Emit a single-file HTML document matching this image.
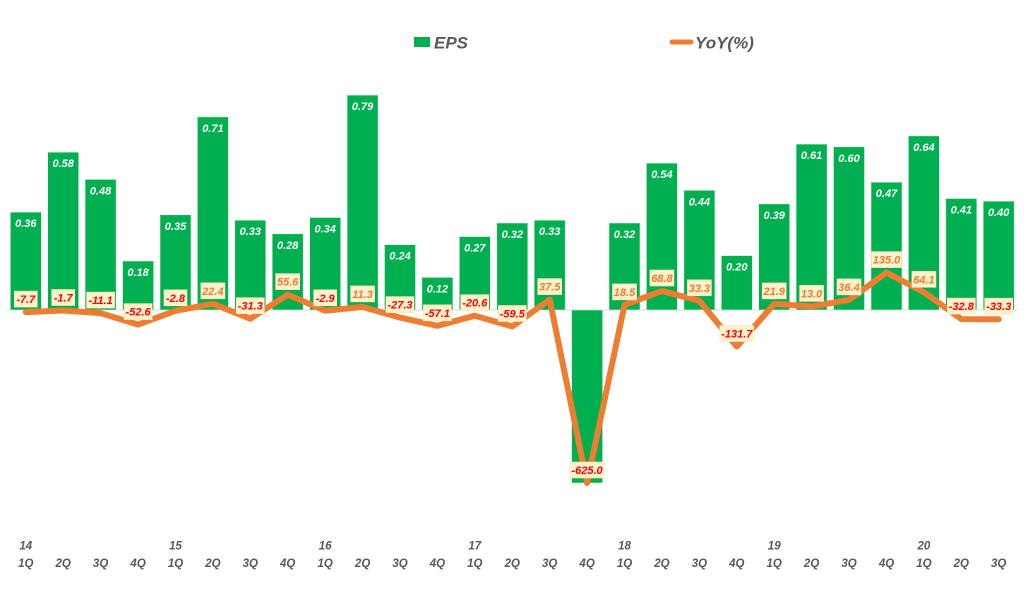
<!DOCTYPE html>
<html>
<head>
<meta charset="utf-8">
<style>
html,body{margin:0;padding:0;background:#fff;}
svg{display:block;}
text{font-family:"Liberation Sans",sans-serif;font-weight:bold;font-style:italic;}
.e{font-size:11px;fill:#fff;text-anchor:middle;}
.n{font-size:11px;fill:#FF0000;text-anchor:middle;}
.p{font-size:11px;fill:#ED7D31;text-anchor:middle;}
.a{font-size:11.5px;fill:#595959;text-anchor:middle;}
.b rect{fill:#00B050;stroke:#E2F0D9;stroke-width:0.6;}
.bx rect{fill:#FFF2CC;stroke:#FBE5B6;stroke-width:0.6;}
</style>
</head>
<body>
<svg width="1024" height="589" viewBox="0 0 1024 589" xmlns="http://www.w3.org/2000/svg">
<rect x="0" y="0" width="1024" height="589" fill="#fff"/>
<rect x="414" y="37" width="16" height="10" fill="#00B050"/>
<text x="434" y="48.5" font-size="17" fill="#595959">EPS</text>
<line x1="672" y1="42" x2="691" y2="42" stroke="#ED7D31" stroke-width="5" stroke-linecap="round"/>
<text x="695" y="48.5" font-size="17" fill="#595959">YoY(%)</text>
<line x1="7" y1="310" x2="1017" y2="310" stroke="#D9D9D9" stroke-width="1"/>
<g class="b">
<rect x="10.3" y="212.1" width="31" height="97.9"/>
<rect x="47.7" y="152.2" width="31" height="157.8"/>
<rect x="85.1" y="179.4" width="31" height="130.6"/>
<rect x="122.6" y="261.0" width="31" height="49.0"/>
<rect x="160.0" y="214.8" width="31" height="95.2"/>
<rect x="197.4" y="116.9" width="31" height="193.1"/>
<rect x="234.8" y="220.2" width="31" height="89.8"/>
<rect x="272.2" y="233.8" width="31" height="76.2"/>
<rect x="309.7" y="217.5" width="31" height="92.5"/>
<rect x="347.1" y="95.1" width="31" height="214.9"/>
<rect x="384.5" y="244.7" width="31" height="65.3"/>
<rect x="421.9" y="277.4" width="31" height="32.6"/>
<rect x="459.3" y="236.6" width="31" height="73.4"/>
<rect x="496.8" y="223.0" width="31" height="87.0"/>
<rect x="534.2" y="220.2" width="31" height="89.8"/>
<rect x="571.6" y="310.0" width="31" height="173.0"/>
<rect x="609.0" y="223.0" width="31" height="87.0"/>
<rect x="646.4" y="163.1" width="31" height="146.9"/>
<rect x="683.9" y="190.3" width="31" height="119.7"/>
<rect x="721.3" y="255.6" width="31" height="54.4"/>
<rect x="758.7" y="203.9" width="31" height="106.1"/>
<rect x="796.1" y="144.1" width="31" height="165.9"/>
<rect x="833.5" y="146.8" width="31" height="163.2"/>
<rect x="871.0" y="182.2" width="31" height="127.8"/>
<rect x="908.4" y="135.9" width="31" height="174.1"/>
<rect x="945.8" y="198.5" width="31" height="111.5"/>
<rect x="983.2" y="201.2" width="31" height="108.8"/>
</g>
<g>
<text class="e" x="25.8" y="227.1">0.36</text>
<text class="e" x="63.2" y="167.2">0.58</text>
<text class="e" x="100.6" y="194.4">0.48</text>
<text class="e" x="138.1" y="276.0">0.18</text>
<text class="e" x="175.5" y="229.8">0.35</text>
<text class="e" x="212.9" y="131.9">0.71</text>
<text class="e" x="250.3" y="235.2">0.33</text>
<text class="e" x="287.7" y="248.8">0.28</text>
<text class="e" x="325.2" y="232.5">0.34</text>
<text class="e" x="362.6" y="110.1">0.79</text>
<text class="e" x="400.0" y="259.7">0.24</text>
<text class="e" x="437.4" y="292.4">0.12</text>
<text class="e" x="474.8" y="251.6">0.27</text>
<text class="e" x="512.3" y="238.0">0.32</text>
<text class="e" x="549.7" y="235.2">0.33</text>
<text class="e" x="624.5" y="238.0">0.32</text>
<text class="e" x="661.9" y="178.1">0.54</text>
<text class="e" x="699.4" y="205.3">0.44</text>
<text class="e" x="736.8" y="270.6">0.20</text>
<text class="e" x="774.2" y="218.9">0.39</text>
<text class="e" x="811.6" y="159.1">0.61</text>
<text class="e" x="849.0" y="161.8">0.60</text>
<text class="e" x="886.5" y="197.2">0.47</text>
<text class="e" x="923.9" y="150.9">0.64</text>
<text class="e" x="961.3" y="213.5">0.41</text>
<text class="e" x="998.7" y="216.2">0.40</text>
</g>
<polyline fill="none" stroke="#ED7D31" stroke-width="6" stroke-linejoin="round" stroke-linecap="round" points="25.8,312.1 63.2,310.5 100.6,313.1 138.1,324.6 175.5,310.8 212.9,303.8 250.3,318.7 287.7,294.6 325.2,310.8 362.6,306.9 400.0,317.6 437.4,325.8 474.8,315.7 512.3,326.5 549.7,299.6 587.1,483.0 624.5,304.9 661.9,291.0 699.4,300.8 736.8,346.5 774.2,303.9 811.6,306.4 849.0,299.9 886.5,272.6 923.9,292.3 961.3,319.1 998.7,319.2"/>
<g class="bx">
<rect x="14.3" y="291.1" width="23" height="16"/><text class="n" x="25.8" y="303.1">-7.7</text>
<rect x="51.7" y="289.5" width="23" height="16"/><text class="n" x="63.2" y="301.5">-1.7</text>
<rect x="86.6" y="292.1" width="28" height="16"/><text class="n" x="100.6" y="304.1">-11.1</text>
<rect x="124.1" y="303.6" width="28" height="16"/><text class="n" x="138.1" y="315.6">-52.6</text>
<rect x="164.0" y="289.8" width="23" height="16"/><text class="n" x="175.5" y="301.8">-2.8</text>
<rect x="200.9" y="282.8" width="24" height="16"/><text class="p" x="212.9" y="294.8">22.4</text>
<rect x="236.3" y="297.7" width="28" height="16"/><text class="n" x="250.3" y="309.7">-31.3</text>
<rect x="275.7" y="273.6" width="24" height="16"/><text class="p" x="287.7" y="285.6">55.6</text>
<rect x="313.7" y="289.8" width="23" height="16"/><text class="n" x="325.2" y="301.8">-2.9</text>
<rect x="350.6" y="285.9" width="24" height="16"/><text class="p" x="362.6" y="297.9">11.3</text>
<rect x="386.0" y="296.6" width="28" height="16"/><text class="n" x="400.0" y="308.6">-27.3</text>
<rect x="423.4" y="304.8" width="28" height="16"/><text class="n" x="437.4" y="316.8">-57.1</text>
<rect x="460.8" y="294.7" width="28" height="16"/><text class="n" x="474.8" y="306.7">-20.6</text>
<rect x="498.3" y="305.5" width="28" height="16"/><text class="n" x="512.3" y="317.5">-59.5</text>
<rect x="537.7" y="278.6" width="24" height="16"/><text class="p" x="549.7" y="290.6">37.5</text>
<rect x="570.1" y="462.0" width="34" height="16"/><text class="n" x="587.1" y="474.0">-625.0</text>
<rect x="612.5" y="283.9" width="24" height="16"/><text class="p" x="624.5" y="295.9">18.5</text>
<rect x="649.9" y="270.0" width="24" height="16"/><text class="p" x="661.9" y="282.0">68.8</text>
<rect x="687.4" y="279.8" width="24" height="16"/><text class="p" x="699.4" y="291.8">33.3</text>
<rect x="719.8" y="325.5" width="34" height="16"/><text class="n" x="736.8" y="337.5">-131.7</text>
<rect x="762.2" y="282.9" width="24" height="16"/><text class="p" x="774.2" y="294.9">21.9</text>
<rect x="799.6" y="285.4" width="24" height="16"/><text class="p" x="811.6" y="297.4">13.0</text>
<rect x="837.0" y="278.9" width="24" height="16"/><text class="p" x="849.0" y="290.9">36.4</text>
<rect x="871.5" y="251.6" width="30" height="16"/><text class="p" x="886.5" y="263.6">135.0</text>
<rect x="911.9" y="271.3" width="24" height="16"/><text class="p" x="923.9" y="283.3">64.1</text>
<rect x="947.3" y="298.1" width="28" height="16"/><text class="n" x="961.3" y="310.1">-32.8</text>
<rect x="984.7" y="298.2" width="28" height="16"/><text class="n" x="998.7" y="310.2">-33.3</text>
</g>
<g>
<text class="a" x="25.8" y="549.5">14</text>
<text class="a" x="175.5" y="549.5">15</text>
<text class="a" x="325.2" y="549.5">16</text>
<text class="a" x="474.8" y="549.5">17</text>
<text class="a" x="624.5" y="549.5">18</text>
<text class="a" x="774.2" y="549.5">19</text>
<text class="a" x="923.9" y="549.5">20</text>
<text class="a" x="25.8" y="567">1Q</text>
<text class="a" x="63.2" y="567">2Q</text>
<text class="a" x="100.6" y="567">3Q</text>
<text class="a" x="138.1" y="567">4Q</text>
<text class="a" x="175.5" y="567">1Q</text>
<text class="a" x="212.9" y="567">2Q</text>
<text class="a" x="250.3" y="567">3Q</text>
<text class="a" x="287.7" y="567">4Q</text>
<text class="a" x="325.2" y="567">1Q</text>
<text class="a" x="362.6" y="567">2Q</text>
<text class="a" x="400.0" y="567">3Q</text>
<text class="a" x="437.4" y="567">4Q</text>
<text class="a" x="474.8" y="567">1Q</text>
<text class="a" x="512.3" y="567">2Q</text>
<text class="a" x="549.7" y="567">3Q</text>
<text class="a" x="587.1" y="567">4Q</text>
<text class="a" x="624.5" y="567">1Q</text>
<text class="a" x="661.9" y="567">2Q</text>
<text class="a" x="699.4" y="567">3Q</text>
<text class="a" x="736.8" y="567">4Q</text>
<text class="a" x="774.2" y="567">1Q</text>
<text class="a" x="811.6" y="567">2Q</text>
<text class="a" x="849.0" y="567">3Q</text>
<text class="a" x="886.5" y="567">4Q</text>
<text class="a" x="923.9" y="567">1Q</text>
<text class="a" x="961.3" y="567">2Q</text>
<text class="a" x="998.7" y="567">3Q</text>
</g>
</svg>
</body>
</html>
